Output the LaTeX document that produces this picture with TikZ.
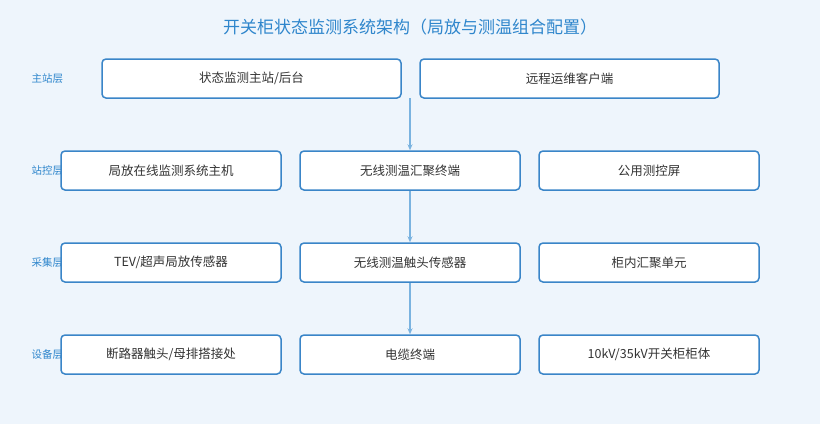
\documentclass[tikz,border=0pt]{standalone}
\usepackage{fontspec}
\setmainfont{Noto Sans CJK SC}
\usetikzlibrary{arrows.meta}
\definecolor{bgblue}{HTML}{EEF5FC}
\definecolor{boxline}{HTML}{3A85C8}
\definecolor{titleblue}{HTML}{2F86CC}
\definecolor{arrowblue}{HTML}{7AB3E0}
\tikzset{>={Stealth[length=6pt,width=5pt]},
  box/.style={draw=boxline, line width=1.5pt, rounded corners=4pt, fill=white,
    minimum height=39pt, font=\fontsize{12.5}{15}\selectfont, text=black!80},
  layer/.style={anchor=west, text=titleblue, font=\fontsize{10.5}{12}\selectfont},
  link/.style={->, draw=arrowblue, line width=1.2pt}}
\begin{document}
\begin{tikzpicture}[x=1pt, y=-1pt]
\fill[bgblue] (0,0) rectangle (820,424);
\useasboundingbox (0,0) rectangle (820,424);
\node[text=titleblue, font=\fontsize{17}{20}\selectfont] (title) at (410,27) {开关柜状态监测系统架构（局放与测温组合配置）};
\node[layer] (l1) at (28,79) {主站层};
\node[layer] (l2) at (28,171) {站控层};
\node[layer] (l3) at (28,263) {采集层};
\node[layer] (l4) at (28,355) {设备层};
% master layer
\node[box, minimum width=299pt] (host) at (251.5,78.5) {状态监测主站/后台};
\node[box, minimum width=299pt] (remote) at (569.5,78.5) {远程运维客户端};
% station layer
\node[box, minimum width=220pt] (pdhost) at (171,170.5) {局放在线监测系统主机};
\node[box, minimum width=220pt] (tmhub) at (410,170.5) {无线测温汇聚终端};
\node[box, minimum width=220pt] (screen) at (649,170.5) {公用测控屏};
% acquisition layer
\node[box, minimum width=220pt] (tev) at (171,262.5) {TEV/超声局放传感器};
\node[box, minimum width=220pt] (tmsens) at (410,262.5) {无线测温触头传感器};
\node[box, minimum width=220pt] (cabunit) at (649,262.5) {柜内汇聚单元};
% device layer
\node[box, minimum width=220pt] (breaker) at (171,354.5) {断路器触头/母排搭接处};
\node[box, minimum width=220pt] (cable) at (410,354.5) {电缆终端};
\node[box, minimum width=220pt] (cabinet) at (649,354.5) {10kV/35kV开关柜柜体};
% connectors
\coordinate (top) at (410,98);
\draw[link] (top) -- (tmhub.north);
\draw[link] (tmhub) -- (tmsens);
\draw[link] (tmsens) -- (cable);
\end{tikzpicture}
\end{document}
